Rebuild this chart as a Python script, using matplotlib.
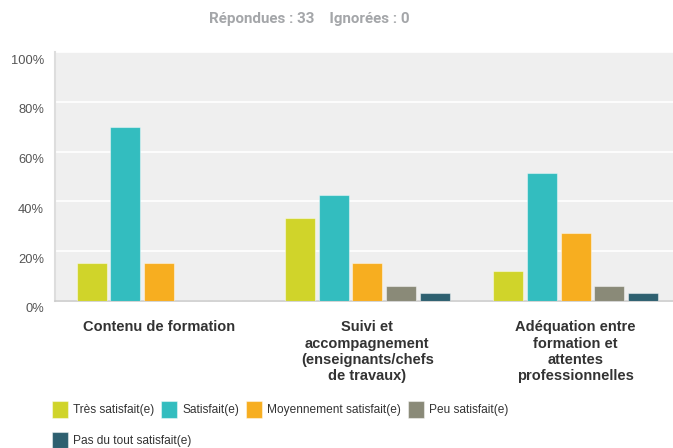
import matplotlib
matplotlib.use('Agg')
import matplotlib.pyplot as plt
import matplotlib.transforms as mtransforms
import numpy as np

# survey results (33 answers), percent
categories = ['Contenu de formation',
              'Suivi et\naccompagnement\n(enseignants/chefs\nde travaux)',
              'Adéquation entre\nformation et\nattentes\nprofessionnelles']
series = ['Très satisfait(e)', 'Satisfait(e)', 'Moyennement satisfait(e)',
          'Peu satisfait(e)', 'Pas du tout satisfait(e)']
tres = [15.15, 33.33, 12.12]
satisfait = [69.70, 42.42, 51.52]
moyen = [15.15, 15.15, 27.27]
peu = [0, 6.06, 6.06]
pas_du_tout = [0, 3.03, 3.03]
yticks = [0, 20, 40, 60, 80, 100]
colors = ['#d0d42a', '#33bdbf', '#f7ae20', '#8a8a78', '#2e6070']

values = [tres, satisfait, moyen, peu, pas_du_tout]

plt.rcParams['font.family'] = ['Liberation Sans', 'DejaVu Sans']

fig = plt.figure(figsize=(6.73, 4.48), dpi=100)
ax = fig.add_axes([55/673, 147/448, 618/673, 249/448])
ax.set_facecolor('#efefef')

x = np.arange(len(categories))
w = 0.144
pitch = 0.1623
bars = []
for i in range(len(series)):
    b = ax.bar(x + (i - 2)*pitch, values[i], w, color=colors[i], label=series[i],
               edgecolor=(1, 1, 1, 0.45), linewidth=0.8, zorder=3)
    bars.append(b)

ax.set_xlim(-0.5, 2.468)
ax.set_ylim(0, 100)
ax.set_yticks(yticks)
ax.set_yticklabels([str(t) + '%' for t in yticks], color='#555555', fontsize=9.3)
ax.yaxis.grid(True, color='white', linewidth=1.2, zorder=1)
ax.tick_params(axis='y', length=0, pad=8)
# labels sit a little below their gridline
off = mtransforms.ScaledTranslation(0, -7/100, fig.dpi_scale_trans)
for lab in ax.get_yticklabels():
    lab.set_transform(lab.get_transform() + off)
ax.set_xticks(x)
ax.set_xticklabels(categories, fontsize=10.5, fontweight='bold', color='#333333',
                   linespacing=1.2, va='top')
ax.tick_params(axis='x', length=0, pad=14)
for s in ['top', 'right']:
    ax.spines[s].set_visible(False)
ax.spines['left'].set_color('#dddddd')
ax.spines['left'].set_linewidth(1.5)
ax.spines['bottom'].set_color('#cccccc')
ax.spines['bottom'].set_linewidth(1.2)

fig.text(0.459, 0.958, 'Répondues : 33    Ignorées : 0', ha='center', va='center',
         fontsize=10.9, fontweight='bold', color='#a4a6a9', family='Roboto')

# legend in two rows: four items, then the last one
leg_kw = dict(loc='center left', frameon=False, fontsize=8.6, handlelength=1.35,
              handleheight=1.7, handletextpad=0.4, columnspacing=0.6,
              labelcolor='#333333', borderaxespad=0, borderpad=0)
fig.legend(bars[:4], series[:4], ncol=4, bbox_to_anchor=(52/673, 1 - 409.5/448), **leg_kw)
fig.legend(bars[4:], series[4:], ncol=1, bbox_to_anchor=(52/673, 1 - 440/448), **leg_kw)

fig.savefig('out.png', dpi=100, facecolor='white')
